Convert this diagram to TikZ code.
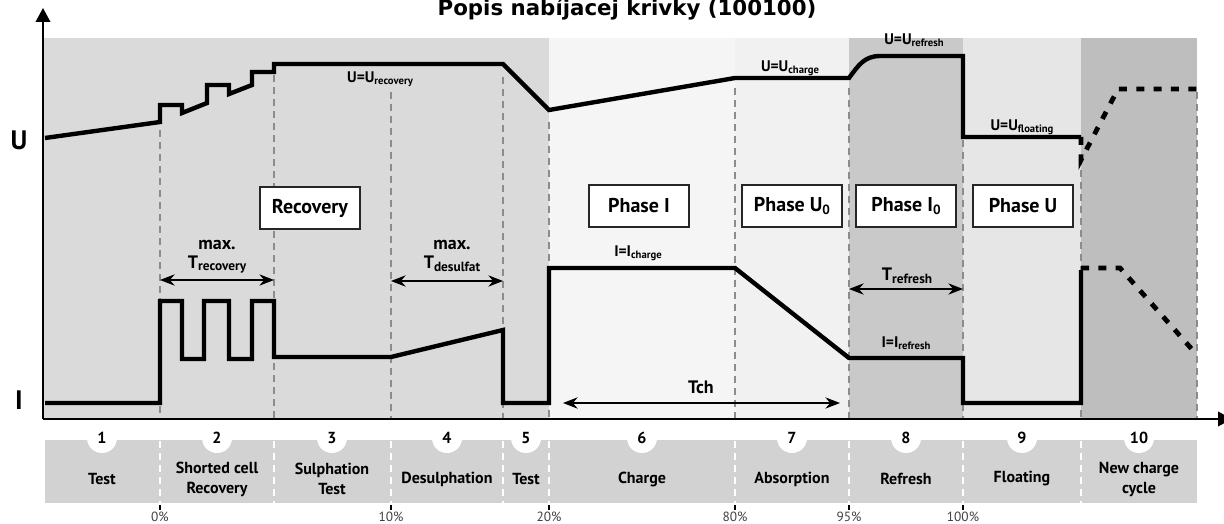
\documentclass[tikz,border=0pt]{standalone}
\usepackage{fontspec}
\setmainfont{PT Sans}
\newfontfamily\titlefont{DejaVu Sans}
\usetikzlibrary{arrows.meta}
\definecolor{bandA}{RGB}{218,218,218}
\definecolor{bandB}{RGB}{245,245,245}
\definecolor{bandC}{RGB}{241,241,241}
\definecolor{bandD}{RGB}{201,201,201}
\definecolor{bandE}{RGB}{230,230,230}
\definecolor{bandF}{RGB}{190,190,190}
\definecolor{tablegray}{RGB}{210,210,210}
\definecolor{guidegray}{RGB}{140,140,140}
\newcommand{\lowsub}[2][8]{\raisebox{-0.3ex}{\fontsize{#1}{#1}\selectfont #2}}

\begin{document}
\begin{tikzpicture}[x=0.75pt,y=0.75pt,yscale=-1,xscale=1,
  curve/.style={line width=3.3pt,line join=miter},
  dashcurve/.style={line width=3.6pt,dash pattern=on 6pt off 7pt},
  guide/.style={guidegray,line width=0.9pt,dash pattern=on 5pt off 4pt},
  cellsep/.style={white,line width=0.9pt,dash pattern=on 5pt off 4pt},
  phasebox/.style={draw=black!85,fill=white,line width=1.1pt,minimum width=75pt,minimum height=31.5pt,inner sep=0pt,font=\bfseries\fontsize{15}{17}\selectfont},
  curvelbl/.style={inner sep=0.75pt,font=\bfseries\fontsize{11.5}{12}\selectfont},
  dimlbl/.style={inner sep=0.75pt,align=center,font=\bfseries\fontsize{13.5}{14}\selectfont},
  dimarrow/.style={{Stealth[length=11pt,width=8.5pt]}-{Stealth[length=11pt,width=8.5pt]},line width=0.9pt},
  numdisc/.style={circle,fill=white,minimum size=22.5pt,inner sep=0pt,font=\bfseries\fontsize{12}{13}\selectfont},
  celllbl/.style={inner sep=0.75pt,align=center,font=\bfseries\fontsize{12}{15}\selectfont},
  pctlbl/.style={inner sep=0.5pt,text=black!75,font=\fontsize{10}{11}\selectfont},
  axis/.style={line width=1.2pt,-{Triangle[length=10.5pt,width=11pt]}}
]
\useasboundingbox (0,0) rectangle (1224,524);
\clip (0,0) rectangle (1224,524);

%Shape: Rectangle (phase bands)
\fill [bandA] (43,38) rectangle (549,419);
\fill [bandB] (549,38) rectangle (735,419);
\fill [bandC] (735,38) rectangle (849,419);
\fill [bandD] (849,38) rectangle (963,419);
\fill [bandE] (963,38) rectangle (1081,419);
\fill [bandF] (1081,38) rectangle (1197,419);

%Straight Lines (guides)
\foreach \gx/\gy in {160/130,274/75,391/92,503/77,549/122,735/88,849/88,963/140,1081/158,1197/92}
  \draw [guide] (\gx,\gy) -- (\gx,419);

%Straight Lines (axes)
\coordinate (origin) at (43,419);
\coordinate (ytip) at (43,8);
\coordinate (xtip) at (1232,419);
\draw [axis] (origin) -- (ytip);
\draw [axis] (origin) -- (xtip);

%Straight Lines (voltage)
\draw [curve] (45,138) -- (160,122) -- (160,105) -- (182,105) -- (182,113) -- (207,103) -- (207,85) -- (229,85) -- (229,94) -- (252,85) -- (252,72) -- (274,72) -- (274,64) -- (503,64) -- (549,110) -- (735,78) -- (849,78) .. controls (858,66) and (864,56) .. (880,56) -- (963,56) -- (963,137) -- (1081,137) ;
\draw [dashcurve] (1081,137) -- (1081,160) -- (1118,89) -- (1197,89) ;

%Straight Lines (current)
\draw [curve] (45,403) -- (160,403) -- (160,301) -- (182,301) -- (182,359) -- (204,359) -- (204,301) -- (229,301) -- (229,359) -- (252,359) -- (252,301) -- (274,301) -- (274,357) -- (391,357) -- (503,330) -- (503,403) -- (549,403) -- (549,268) -- (735,268) -- (849,358) -- (963,358) -- (963,403) -- (1081,403) -- (1081,270) ;
\draw [dashcurve] (1081,268) -- (1120,268) -- (1197,355) ;

% Text Node
\draw (627,16) node (title) [anchor=base,inner sep=0pt,font=\titlefont\bfseries\fontsize{16}{18}\selectfont] {Popis nabíjacej krivky (100100)};
% Text Node
\draw (19,140) node (lblU) [font=\bfseries\fontsize{20}{22}\selectfont] {U};
% Text Node
\draw (19,400) node (lblI) [font=\bfseries\fontsize{20}{22}\selectfont] {I};

% Text Node
\draw (380,79) node (uRec) [curvelbl] {U=U\lowsub{recovery}};
\draw (790,68) node (uCh) [curvelbl] {U=U\lowsub{charge}};
\draw (914,40) node (uRef) [curvelbl] {U=U\lowsub{refresh}};
\draw (1022,127) node (uFl) [curvelbl] {U=U\lowsub{floating}};
\draw (638,253) node (iCh) [curvelbl] {I=I\lowsub{charge}};
\draw (906,343) node (iRef) [curvelbl] {I=I\lowsub{refresh}};

%Shape: Rectangle (phase boxes)
\draw (310,208) node (bRec) [phasebox] {Recovery};
\draw (639,206) node (bPhI) [phasebox] {Phase I};
\draw (792,206) node (bPhU0) [phasebox] {Phase U\lowsub[10]{0}};
\draw (906,206) node (bPhI0) [phasebox] {Phase I\lowsub[10]{0}};
\draw (1023,206) node (bPhU) [phasebox] {Phase U};

%Straight Lines (time spans)
\coordinate (recA) at (160,280);
\coordinate (recB) at (274,280);
\coordinate (desA) at (391,281);
\coordinate (desB) at (503,281);
\coordinate (refA) at (849,289);
\coordinate (refB) at (963,289);
\coordinate (chA) at (563,403);
\coordinate (chB) at (840,403);
\draw [dimarrow] (recA) -- (recB);
\draw [dimarrow] (desA) -- (desB);
\draw [dimarrow] (refA) -- (refB);
\draw [dimarrow] (chA) -- (chB);
% Text Node
\draw (217,257) node (tRec) [dimlbl] {max.\\T\lowsub[10]{recovery}};
\draw (452,256) node (tDes) [dimlbl] {max.\\T\lowsub[10]{desulfat}};
\draw (907,276) node (tRef) [dimlbl] {T\lowsub[10]{refresh}};
\draw (701,387) node (tCh) [dimlbl] {Tch};

%Shape: Rectangle (phase table)
\fill [tablegray] (45,440) rectangle (1197,503);
\foreach \sx in {160,274,391,503,549,735,849,963,1081}
  \draw [cellsep] (\sx,441) -- (\sx,503);
\foreach \cx/\num/\txt in {102/1/Test,217/2/{Shorted cell\\Recovery},332/3/{Sulphation\\Test},447/4/Desulphation,526/5/Test,642/6/Charge,792/7/Absorption,906/8/Refresh,1022/9/Floating,1139/10/{New charge\\cycle}}{
  \draw (\cx,438) node (num\num) [numdisc] {\num};
  \draw (\cx,479) node (cell\num) [celllbl] {\txt};
}
\foreach \px/\pct in {160/0,391/10,549/20,735/80,849/95,963/100}{
  \draw [line width=1.1pt] (\px,505) -- (\px,510);
  \draw (\px,517) node (pct\pct) [pctlbl] {\pct\%};
}

\end{tikzpicture}
\end{document}
